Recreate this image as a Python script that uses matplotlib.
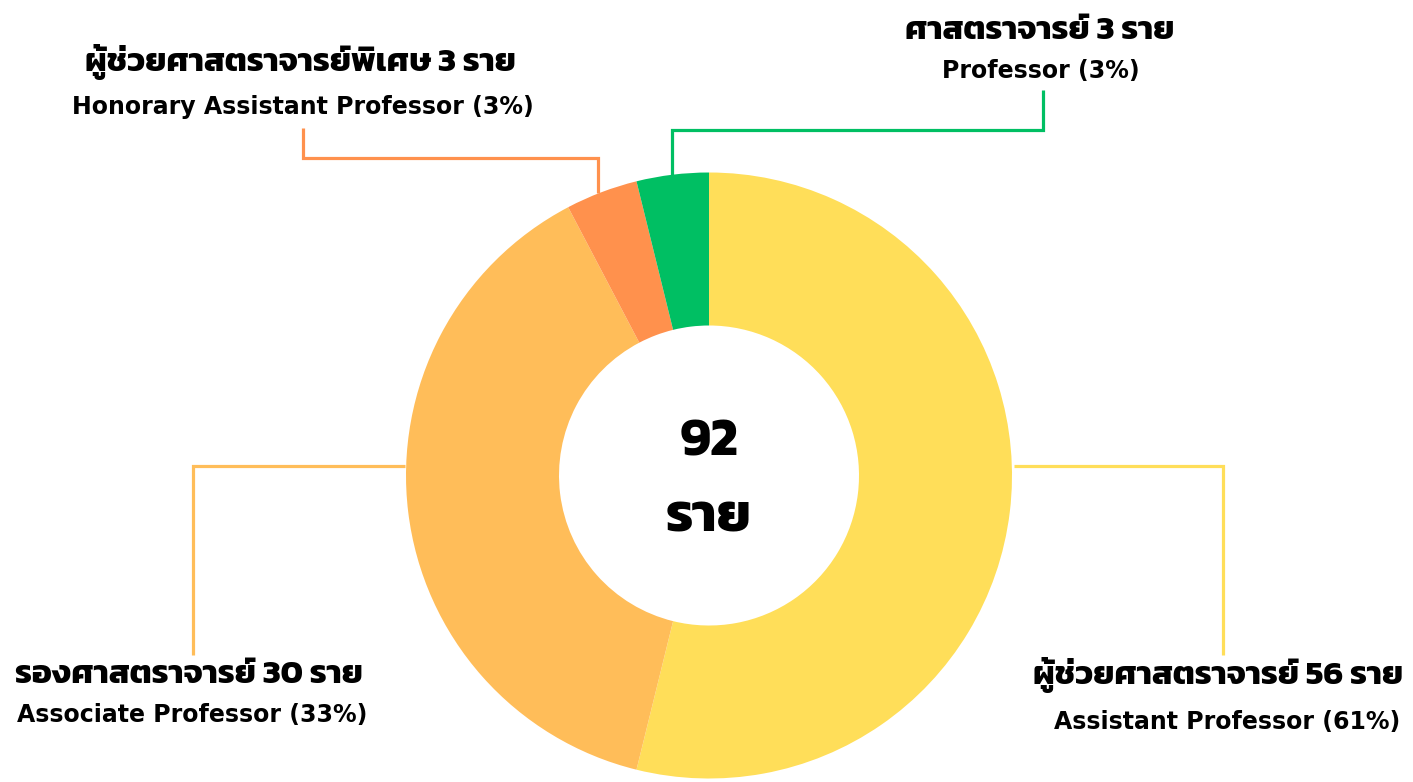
import matplotlib
matplotlib.use("Agg")
import matplotlib.pyplot as plt
from matplotlib import font_manager
from matplotlib.ft2font import FT2Font

# data: wedge sizes as drawn, counts and shares as written in the labels
wedge_share = [56, 40, 4, 4]
counts = [56, 30, 3, 3]
percents = [61, 33, 3, 3]
thai_names = ["ผู้ช่วยศาสตราจารย์", "รองศาสตราจารย์", "ผู้ช่วยศาสตราจารย์พิเศษ", "ศาสตราจารย์"]
eng_names = ["Assistant Professor", "Associate Professor",
             "Honorary Assistant Professor", "Professor"]
total_label = "92"
unit = "ราย"
colors = ["#FFDE59", "#FFBD59", "#FF914D", "#00BF63"]


def find_thai_font():
    found = []
    for f in font_manager.fontManager.ttflist:
        try:
            if 0x0E28 in FT2Font(f.fname).get_charmap():
                found.append(f.name)
        except Exception:
            pass
    prefer = ["Kanit", "Prompt", "Noto Sans Thai", "Noto Sans Thai Looped",
              "Sarabun", "Loma", "Garuda", "Tlwg Typo", "Waree"]
    for p in prefer:
        if p in found:
            return p
    return found[0] if found else "DejaVu Sans"


thai_font = find_thai_font()
thai_fam = [thai_font, "DejaVu Sans"]
eng_fam = ["DejaVu Sans"]

W, H = 1413, 782
fig = plt.figure(figsize=(W / 100, H / 100), dpi=100)
ax = fig.add_axes([0, 0, 1, 1])

cx, cy, R = 709, 475.5, 303


def Y(y):
    return H - y


ax.pie(wedge_share, colors=colors, startangle=90, counterclock=False,
       center=(cx, Y(cy)), radius=R,
       wedgeprops=dict(width=153, linewidth=0))

ax.set_xlim(0, W)
ax.set_ylim(0, H)
ax.set_aspect("equal")
ax.axis("off")

lw = 2.3
# leader lines (pixel coords from top-left)
leaders = [
    (colors[0], [(1014, 466), (1223, 466), (1223, 655)]),
    (colors[1], [(405, 466), (193, 466), (193, 655)]),
    (colors[2], [(598, 193), (598, 158), (303, 158), (303, 128)]),
    (colors[3], [(672, 176), (672, 130), (1043, 130), (1043, 90)]),
]
for c, pts in leaders:
    ax.plot([p[0] for p in pts], [Y(p[1]) for p in pts], color=c, lw=lw,
            solid_joinstyle="miter", solid_capstyle="butt")

# label positions: (thai x, thai baseline, english x, english baseline)
label_pos = [(1218, 684, 1227, 729), (189, 683, 192, 722),
             (300, 71, 303, 114), (1040, 39, 1041, 78)]
for i, (xt, yt, xe, ye) in enumerate(label_pos):
    ax.text(xt, Y(yt), f"{thai_names[i]} {counts[i]} {unit}", ha="center",
            va="baseline", fontsize=24, fontweight="bold", family=thai_fam)
    ax.text(xe, Y(ye), f"{eng_names[i]} ({percents[i]}%)", ha="center",
            va="baseline", fontsize=17, fontweight="bold", family=eng_fam)

ax.text(cx, Y(455), total_label, ha="center", va="baseline", fontsize=38,
        fontweight="bold", family=thai_fam)
ax.text(cx, Y(532), unit, ha="center", va="baseline", fontsize=39,
        fontweight="bold", family=thai_fam)

fig.savefig("out.png", dpi=100)
